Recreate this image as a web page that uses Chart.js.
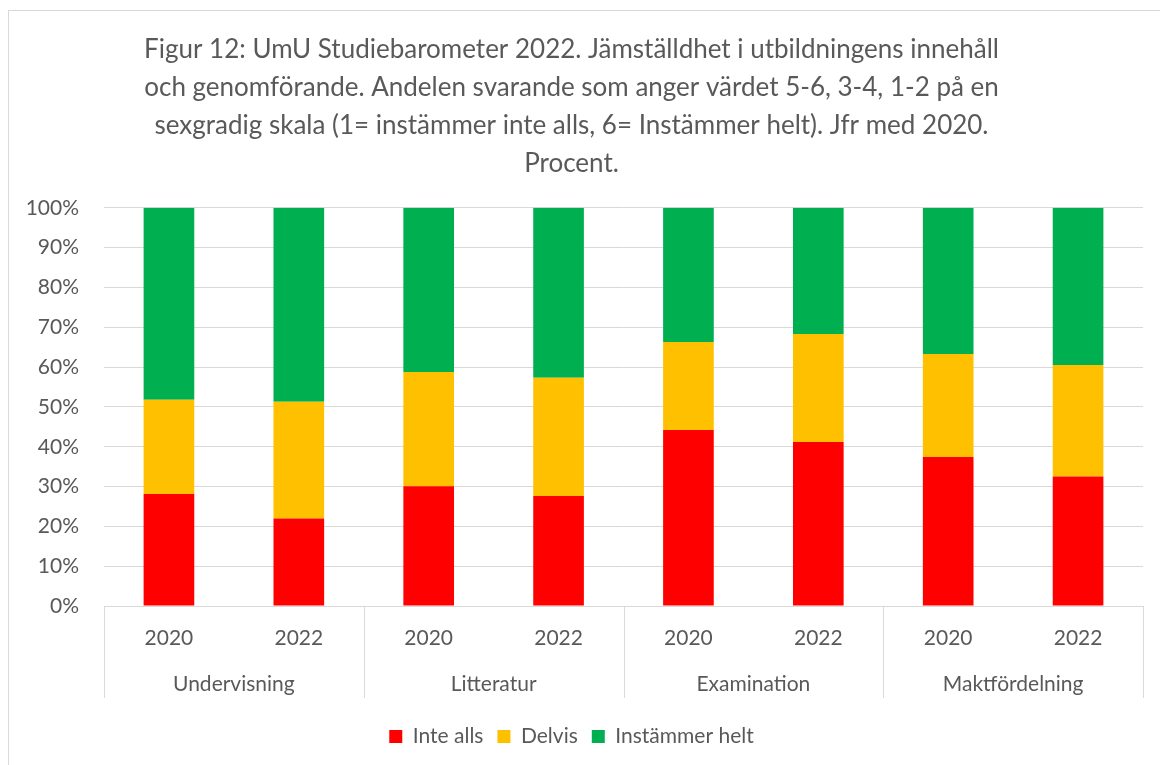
<!DOCTYPE html>
<html>
<head>
<meta charset="utf-8">
<script src="https://cdn.jsdelivr.net/npm/chart.js@4"></script>
<style>
  html, body { margin: 0; padding: 0; background: #fff; }
  #wrap { width: 1160px; height: 765px; }
</style>
</head>
<body>
<div id="wrap"><canvas id="studieChart" width="1160" height="765"></canvas></div>
<script>
var years = ["2020", "2022", "2020", "2022", "2020", "2022", "2020", "2022"];
var groups = ["Undervisning", "Litteratur", "Examination", "Maktfördelning"];
var inteAlls = [28.1, 22.0, 30.1, 27.6, 44.2, 41.2, 37.4, 32.5];
var delvis = [23.7, 29.3, 28.7, 29.7, 22.1, 27.1, 25.9, 28.0];
var instammerHelt = [48.2, 48.7, 41.2, 42.7, 33.7, 31.7, 36.7, 39.5];
var yTicks = [0, 10, 20, 30, 40, 50, 60, 70, 80, 90, 100];

var fontName = "Lato, 'Open Sans', sans-serif";
var textColor = "#595959";
var lineColor = "#d9d9d9";

// outer frame + category group labels below the year ticks
var groupAxis = {
  id: "groupAxis",
  beforeDraw: function (chart) {
    var ctx = chart.ctx;
    ctx.save();
    ctx.strokeStyle = lineColor;
    ctx.lineWidth = 1;
    ctx.strokeRect(8.5, 10.5, 1200, 800);
    ctx.restore();
  },
  afterDraw: function (chart) {
    var ctx = chart.ctx;
    var x = chart.scales.x;
    var bottom = chart.chartArea.bottom;
    var per = years.length / groups.length;
    ctx.save();
    ctx.strokeStyle = lineColor;
    ctx.lineWidth = 1;
    for (var g = 0; g <= groups.length; g++) {
      var px;
      if (g === 0) px = x.left;
      else if (g === groups.length) px = x.right;
      else px = (x.getPixelForValue(g * per - 1) + x.getPixelForValue(g * per)) / 2;
      px = Math.round(px) + 0.5;
      ctx.beginPath();
      ctx.moveTo(px, bottom);
      ctx.lineTo(px, bottom + 92);
      ctx.stroke();
    }
    ctx.fillStyle = textColor;
    ctx.font = "21px " + fontName;
    ctx.textAlign = "center";
    ctx.textBaseline = "middle";
    for (var i = 0; i < groups.length; i++) {
      var a = x.getPixelForValue(i * per);
      var b = x.getPixelForValue(i * per + per - 1);
      ctx.fillText(groups[i], (a + b) / 2, bottom + 78);
    }
    ctx.restore();
  }
};

document.addEventListener("DOMContentLoaded", function () {
  var studieCTX = document.getElementById("studieChart").getContext("2d");

  var chart = new Chart(studieCTX, {
    type: "bar",
    data: {
      labels: years,
      datasets: [
        { label: "Inte alls", data: inteAlls, backgroundColor: "#ff0000" },
        { label: "Delvis", data: delvis, backgroundColor: "#ffc000" },
        { label: "Instämmer helt", data: instammerHelt, backgroundColor: "#00b050" }
      ]
    },
    plugins: [groupAxis],
    options: {
      responsive: false,
      animation: false,
      devicePixelRatio: 1,
      datasets: {
        bar: { categoryPercentage: 1.0, barPercentage: 0.39 }
      },
      layout: {
        padding: { left: 0, right: 17, top: 0, bottom: 8 }
      },
      plugins: {
        title: {
          display: true,
          text: [
            "Figur 12: UmU Studiebarometer 2022. Jämställdhet i utbildningens innehåll",
            "och genomförande. Andelen svarande som anger värdet 5-6, 3-4, 1-2 på en",
            "sexgradig skala (1= instämmer inte alls, 6= Instämmer helt). Jfr med 2020.",
            "Procent."
          ],
          color: textColor,
          font: { family: fontName, size: 26, weight: "normal", lineHeight: 1.46 },
          padding: { top: 31, bottom: 25 }
        },
        legend: {
          position: "bottom",
          labels: {
            color: textColor,
            boxWidth: 13,
            boxHeight: 13,
            padding: 14,
            font: { family: fontName, size: 21 }
          }
        },
        tooltip: { enabled: false }
      },
      scales: {
        x: {
          stacked: true,
          grid: { display: false, drawTicks: false },
          border: { display: true, color: lineColor },
          ticks: {
            color: textColor,
            padding: 20,
            maxRotation: 0,
            font: { family: fontName, size: 21 }
          },
          afterFit: function (scale) { scale.height = 106; }
        },
        y: {
          stacked: true,
          min: 0,
          max: 100,
          afterBuildTicks: function (scale) {
            scale.ticks = yTicks.map(function (v) { return { value: v }; });
          },
          grid: { color: lineColor, drawTicks: false },
          border: { display: false },
          ticks: {
            color: textColor,
            padding: 25,
            font: { family: fontName, size: 21 },
            callback: function (v) { return v + "%"; }
          },
          afterFit: function (scale) { scale.width = 104; }
        }
      }
    }
  });
});
</script>
</body>
</html>
